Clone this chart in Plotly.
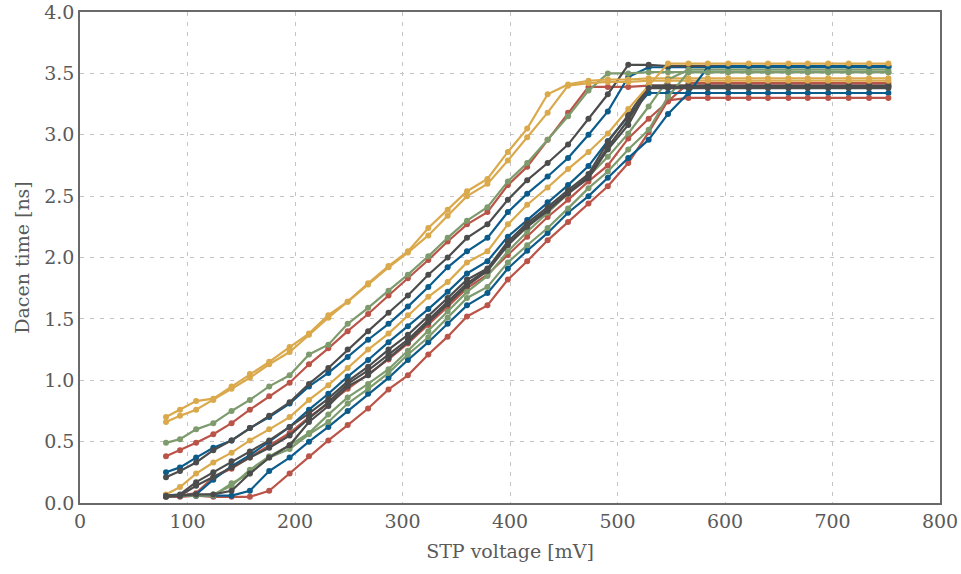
import plotly.graph_objects as go

# STP voltage sweep points (mV), shared by every run
stp_mv = [80, 93, 108, 124, 141, 158, 176, 195, 213, 231,
          249, 268, 287, 305, 324, 342, 360, 379, 398, 416,
          435, 454, 473, 491, 510, 529, 547, 566, 584, 603,
          622, 640, 659, 677, 696, 715, 734, 752]

# Dacen time (ns) per run
red_1 = [0.38, 0.43, 0.49, 0.56, 0.65, 0.76, 0.87, 0.98, 1.13, 1.26,
         1.40, 1.54, 1.69, 1.83, 1.98, 2.13, 2.27, 2.37, 2.59, 2.74,
         2.96, 3.18, 3.39, 3.39, 3.39, 3.40, 3.40, 3.40, 3.40, 3.40,
         3.40, 3.40, 3.40, 3.40, 3.40, 3.40, 3.40, 3.40]
blue_1 = [0.25, 0.29, 0.37, 0.45, 0.51, 0.61, 0.70, 0.81, 0.95, 1.06,
          1.19, 1.33, 1.46, 1.60, 1.76, 1.92, 2.05, 2.16, 2.37, 2.52,
          2.66, 2.81, 3.00, 3.19, 3.47, 3.55, 3.55, 3.55, 3.55, 3.55,
          3.55, 3.55, 3.55, 3.55, 3.55, 3.55, 3.55, 3.55]
green_1 = [0.49, 0.52, 0.60, 0.65, 0.75, 0.84, 0.95, 1.04, 1.21, 1.29,
           1.46, 1.59, 1.73, 1.86, 2.01, 2.16, 2.30, 2.41, 2.62, 2.77,
           2.96, 3.15, 3.36, 3.50, 3.50, 3.51, 3.51, 3.51, 3.51, 3.51,
           3.51, 3.51, 3.51, 3.51, 3.51, 3.51, 3.51, 3.51]
gray_1 = [0.21, 0.26, 0.33, 0.43, 0.51, 0.61, 0.71, 0.82, 0.97, 1.10,
          1.25, 1.40, 1.55, 1.69, 1.86, 2.00, 2.16, 2.27, 2.47, 2.63,
          2.77, 2.92, 3.13, 3.33, 3.57, 3.57, 3.56, 3.56, 3.56, 3.56,
          3.56, 3.56, 3.56, 3.56, 3.56, 3.56, 3.56, 3.56]
yellow_1 = [0.70, 0.76, 0.83, 0.85, 0.95, 1.05, 1.15, 1.27, 1.38, 1.53,
            1.64, 1.79, 1.93, 2.05, 2.24, 2.39, 2.54, 2.64, 2.86, 3.05,
            3.33, 3.41, 3.44, 3.45, 3.45, 3.46, 3.46, 3.46, 3.46, 3.46,
            3.46, 3.46, 3.46, 3.46, 3.46, 3.46, 3.46, 3.46]
red_2 = [0.06, 0.06, 0.08, 0.21, 0.28, 0.37, 0.47, 0.57, 0.70, 0.81,
         0.93, 1.05, 1.17, 1.30, 1.45, 1.60, 1.75, 1.86, 2.02, 2.17,
         2.33, 2.47, 2.62, 2.75, 2.97, 3.13, 3.27, 3.42, 3.42, 3.42,
         3.42, 3.42, 3.42, 3.42, 3.42, 3.42, 3.42, 3.42]
blue_2 = [0.06, 0.06, 0.07, 0.19, 0.30, 0.39, 0.50, 0.62, 0.76, 0.89,
          1.03, 1.165, 1.31, 1.44, 1.58, 1.72, 1.87, 1.97, 2.17, 2.305,
          2.45, 2.59, 2.745, 2.95, 3.15, 3.34, 3.34, 3.34, 3.34, 3.34,
          3.34, 3.34, 3.34, 3.34, 3.34, 3.34, 3.34, 3.34]
green_2 = [0.06, 0.06, 0.06, 0.07, 0.14, 0.27, 0.38, 0.47, 0.57, 0.72,
           0.86, 0.97, 1.09, 1.24, 1.40, 1.56, 1.72, 1.85, 2.05, 2.21,
           2.365, 2.52, 2.66, 2.82, 3.01, 3.23, 3.45, 3.53, 3.53, 3.53,
           3.53, 3.53, 3.53, 3.53, 3.53, 3.53, 3.53, 3.53]
gray_2 = [0.06, 0.07, 0.17, 0.25, 0.34, 0.42, 0.51, 0.62, 0.73, 0.85,
          0.99, 1.11, 1.25, 1.37, 1.52, 1.67, 1.82, 1.91, 2.13, 2.28,
          2.41, 2.55, 2.68, 2.94, 3.16, 3.40, 3.40, 3.40, 3.40, 3.40,
          3.40, 3.40, 3.40, 3.40, 3.40, 3.40, 3.40, 3.40]
yellow_2 = [0.66, 0.71, 0.76, 0.84, 0.93, 1.02, 1.13, 1.23, 1.37, 1.51,
            1.64, 1.78, 1.92, 2.04, 2.18, 2.34, 2.50, 2.60, 2.79, 2.98,
            3.18, 3.40, 3.42, 3.43, 3.43, 3.44, 3.44, 3.44, 3.44, 3.44,
            3.44, 3.44, 3.44, 3.44, 3.44, 3.44, 3.44, 3.44]
red_3 = [0.05, 0.05, 0.06, 0.05, 0.05, 0.05, 0.10, 0.24, 0.38, 0.51,
         0.635, 0.77, 0.925, 1.04, 1.21, 1.355, 1.52, 1.61, 1.82, 1.97,
         2.14, 2.29, 2.44, 2.58, 2.77, 3.02, 3.28, 3.30, 3.30, 3.30,
         3.30, 3.30, 3.30, 3.30, 3.30, 3.30, 3.30, 3.30]
blue_3 = [0.06, 0.06, 0.06, 0.06, 0.06, 0.10, 0.26, 0.37, 0.50, 0.62,
          0.75, 0.89, 1.02, 1.165, 1.31, 1.46, 1.61, 1.71, 1.91, 2.055,
          2.20, 2.365, 2.50, 2.65, 2.81, 2.96, 3.17, 3.34, 3.55, 3.56,
          3.56, 3.56, 3.56, 3.56, 3.56, 3.56, 3.56, 3.56]
green_3 = [0.05, 0.06, 0.06, 0.06, 0.16, 0.24, 0.37, 0.44, 0.56, 0.66,
           0.81, 0.93, 1.06, 1.21, 1.35, 1.51, 1.67, 1.76, 1.96, 2.10,
           2.24, 2.40, 2.565, 2.70, 2.88, 3.04, 3.31, 3.51, 3.51, 3.51,
           3.51, 3.51, 3.51, 3.51, 3.51, 3.51, 3.51, 3.51]
gray_3 = [0.05, 0.06, 0.14, 0.21, 0.29, 0.37, 0.45, 0.55, 0.69, 0.82,
          0.97, 1.08, 1.21, 1.33, 1.49, 1.64, 1.79, 1.90, 2.11, 2.26,
          2.39, 2.53, 2.66, 2.90, 3.12, 3.39, 3.39, 3.39, 3.39, 3.39,
          3.39, 3.39, 3.39, 3.39, 3.39, 3.39, 3.39, 3.39]
yellow_3 = [0.07, 0.13, 0.24, 0.33, 0.41, 0.51, 0.60, 0.70, 0.84, 0.96,
            1.10, 1.25, 1.38, 1.53, 1.68, 1.80, 1.96, 2.05, 2.27, 2.43,
            2.57, 2.72, 2.86, 3.01, 3.21, 3.40, 3.58, 3.58, 3.58, 3.58,
            3.58, 3.58, 3.58, 3.58, 3.58, 3.58, 3.58, 3.58]
gray_4 = [0.06, 0.06, 0.07, 0.07, 0.10, 0.24, 0.37, 0.47, 0.66, 0.79,
          0.95, 1.04, 1.18, 1.31, 1.47, 1.62, 1.77, 1.89, 2.10, 2.25,
          2.38, 2.52, 2.645, 2.88, 3.08, 3.38, 3.38, 3.38, 3.38, 3.38,
          3.38, 3.38, 3.38, 3.38, 3.38, 3.38, 3.38, 3.38]

RED = "#BB5448"
BLUE = "#0B5C8A"
GREEN = "#7D9B6C"
GRAY = "#4C4C4C"
YELLOW = "#DAA94C"

runs = [
    (red_1, RED), (blue_1, BLUE), (green_1, GREEN), (gray_1, GRAY), (yellow_1, YELLOW),
    (red_2, RED), (blue_2, BLUE), (green_2, GREEN), (gray_2, GRAY), (yellow_2, YELLOW),
    (red_3, RED), (blue_3, BLUE), (green_3, GREEN), (gray_3, GRAY), (yellow_3, YELLOW),
    (gray_4, GRAY),
]

fig = go.Figure()
for values, color in runs:
    fig.add_trace(go.Scatter(
        x=stp_mv, y=values, mode="lines+markers",
        line=dict(color=color, width=2.2),
        marker=dict(color=color, size=6),
        showlegend=False,
    ))

FONT = "DejaVu Serif"
TEXT = "#5a5a5a"
axis_common = dict(
    showgrid=True, gridcolor="#c4c4c4", gridwidth=1.2, griddash="4px,6px",
    showline=True, mirror=True, linecolor="#6a6a6a", linewidth=1.5,
    ticks="", zeroline=False, automargin=False,
    tickfont=dict(family=FONT, size=19, color=TEXT),
)

fig.update_layout(
    width=961, height=574,
    margin=dict(l=80, r=21, t=12, b=71),
    paper_bgcolor="white", plot_bgcolor="white",
    font=dict(family=FONT, color=TEXT),
    xaxis=dict(
        range=[0, 800], tickvals=[0, 100, 200, 300, 400, 500, 600, 700, 800],
        title=dict(text="STP voltage [mV]", font=dict(family=FONT, size=19, color=TEXT), standoff=14),
        **axis_common,
    ),
    yaxis=dict(
        range=[0, 4.0], tickvals=[0, 0.5, 1.0, 1.5, 2.0, 2.5, 3.0, 3.5, 4.0], tickformat=".1f",
        title=dict(text="Dacen time [ns]", font=dict(family=FONT, size=19, color=TEXT), standoff=10),
        **axis_common,
    ),
)

fig.write_html("out.html")
